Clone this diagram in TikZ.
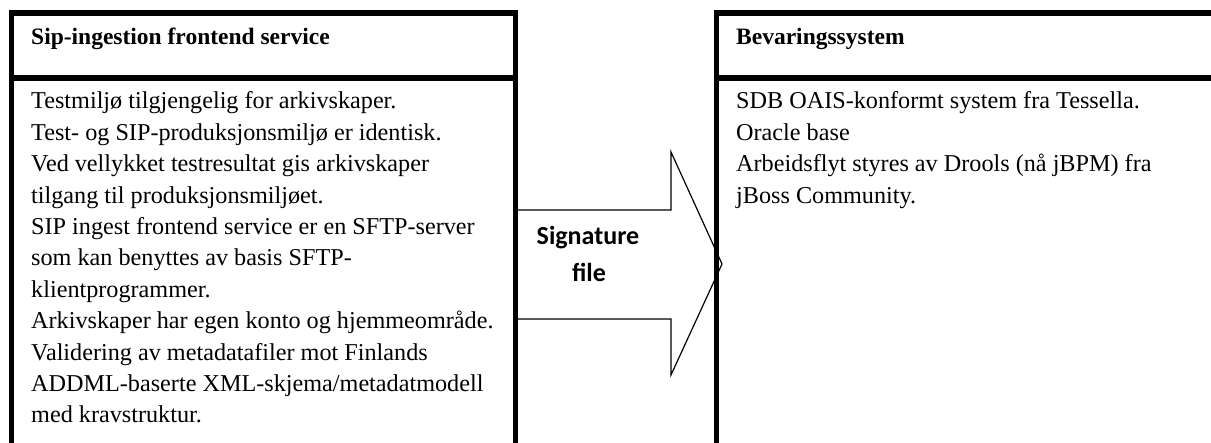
\documentclass[tikz,border=0pt]{standalone}
\usepackage{fontspec}
\setmainfont{Liberation Serif}
\newfontfamily\sigfont{Carlito}
\begin{document}
\begin{tikzpicture}[x=1pt,y=-1pt,
  frame/.style={line width=5.5pt, line join=miter},
  blockarrow/.style={draw, fill=white, line width=1.2pt, line join=miter},
  body/.style={anchor=base west, inner sep=0pt},
  headfont/.style={font=\bfseries\fontsize{23.5}{28}\selectfont},
  sigstyle/.style={anchor=base, inner sep=0pt, font=\sigfont\bfseries\fontsize{26}{31}\selectfont}
]
\clip (0,0) rectangle (1211,443);
% block arrow
\draw[blockarrow] (517,210) -- (671,210) -- (671,152) -- (722,264) -- (671,375) -- (671,319) -- (517,319);
% left box
\draw[frame] (11.5,460) -- (11.5,13) -- (515.5,13) -- (515.5,460);
\draw[frame] (11.5,78) -- (515.5,78);
% right box
\draw[frame] (716.5,460) -- (716.5,13) -- (1230,13);
\draw[frame] (716.5,78) -- (1230,78);
% headers
\node[body, headfont] (lhead) at (31,45) {Sip-ingestion frontend service};
\node[body, headfont] (rhead) at (736,45) {Bevaringssystem};
% bodies
\node[body] (ltext) at (31,109) {\parbox[t]{600pt}{\fontsize{24.2}{31.4}\selectfont\raggedright
Testmiljø tilgjengelig for arkivskaper.\\
Test- og SIP-produksjonsmiljø er identisk.\\
Ved vellykket testresultat gis arkivskaper\\
tilgang til produksjonsmiljøet.\\
SIP ingest frontend service er en SFTP-server\\
som kan benyttes av basis SFTP-\\
klientprogrammer.\\
Arkivskaper har egen konto og hjemmeområde.\\
Validering av metadatafiler mot Finlands\\
ADDML-baserte XML-skjema/metadatmodell\\
med kravstruktur.}};
\node[body] (rtext) at (736,109) {\parbox[t]{600pt}{\fontsize{24.2}{31.4}\selectfont\raggedright
SDB OAIS-konformt system fra Tessella.\\
Oracle base\\
Arbeidsflyt styres av Drools (nå jBPM) fra\\
jBoss Community.}};
% arrow label
\node[sigstyle] (sig) at (588,245) {Signature};
\node[sigstyle] (sigfile) at (589,282) {file};
\end{tikzpicture}
\end{document}
